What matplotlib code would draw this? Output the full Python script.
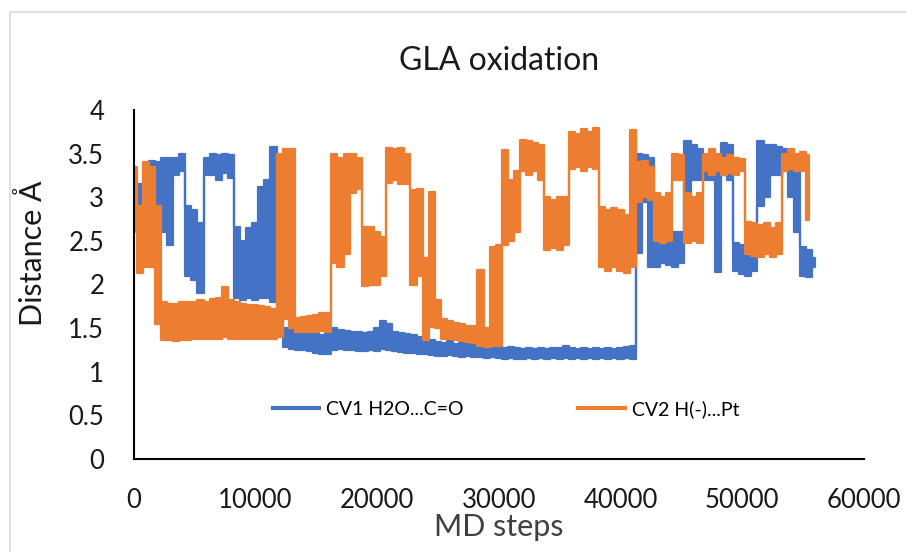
import numpy as np
import matplotlib.pyplot as plt
from matplotlib.lines import Line2D
from matplotlib.patches import Rectangle

plt.rcParams['font.family'] = ['Lato', 'DejaVu Sans']

# min / max of each distance over 500-step windows
window = 500

cv1_high = [
    3.2, 3.15, 3.3, 3.42, 3.4, 3.45, 3.45, 3.45, 3.5, 2.9,
    2.85, 2.7, 3.45, 3.5, 3.48, 3.5, 3.48, 2.66, 2.5, 2.65,
    2.7, 3.12, 3.2, 3.58, 2.2, 1.5, 1.48, 1.47, 1.46, 1.45,
    1.44, 1.42, 1.48, 1.5, 1.48, 1.47, 1.46, 1.45, 1.44, 1.45,
    1.5, 1.58, 1.55, 1.46, 1.44, 1.43, 1.42, 1.4, 1.38, 1.36,
    1.34, 1.33, 1.35, 1.32, 1.33, 1.32, 1.31, 1.3, 1.3, 1.29,
    1.28, 1.27, 1.28, 1.27, 1.26, 1.27, 1.26, 1.27, 1.26, 1.27,
    1.27, 1.3, 1.27, 1.26, 1.27, 1.26, 1.27, 1.26, 1.27, 1.26,
    1.27, 1.28, 1.3, 3.5, 3.48, 3.45, 2.66, 2.62, 2.62, 2.6,
    2.6, 3.64, 3.6, 3.55, 3.35, 3.33, 3.3, 3.62, 3.6, 2.47,
    2.45, 2.4, 2.45, 3.64, 3.6, 3.6, 3.58, 3.55, 3.35, 3.3,
    2.43, 2.4, 2.3,
]
cv1_low = [
    2.7, 2.7, 2.8, 3.15, 2.8, 2.6, 2.45, 3.25, 3.3, 2.1,
    2.05, 1.9, 3.25, 3.25, 3.2, 3.28, 3.22, 1.85, 1.82, 1.85,
    1.82, 1.85, 1.85, 1.8, 1.5, 1.28, 1.26, 1.25, 1.25, 1.24,
    1.22, 1.2, 1.2, 1.25, 1.26, 1.25, 1.25, 1.24, 1.24, 1.25,
    1.24, 1.26, 1.25, 1.24, 1.23, 1.22, 1.22, 1.2, 1.2, 1.19,
    1.18, 1.18, 1.19, 1.18, 1.17, 1.18, 1.17, 1.17, 1.16, 1.17,
    1.16, 1.15, 1.16, 1.15, 1.15, 1.16, 1.15, 1.16, 1.15, 1.16,
    1.15, 1.16, 1.15, 1.16, 1.15, 1.16, 1.15, 1.16, 1.15, 1.16,
    1.15, 1.16, 1.15, 2.36, 2.95, 2.2, 2.2, 2.25, 2.22, 2.2,
    2.25, 3.0, 3.2, 3.2, 3.2, 3.2, 2.14, 3.25, 3.2, 2.15,
    2.12, 2.1, 2.15, 2.9, 3.0, 3.25, 3.25, 3.3, 3.0, 2.6,
    2.1, 2.09, 2.2,
]

cv2_high = [
    3.35, 2.9, 3.4, 3.35, 2.9, 1.8, 1.78, 1.78, 1.8, 1.8,
    1.8, 1.82, 1.8, 1.83, 1.84, 1.97, 1.82, 1.8, 1.78, 1.76,
    1.76, 1.75, 1.74, 1.72, 3.5, 3.55, 3.55, 1.62, 1.63, 1.64,
    1.65, 1.67, 1.67, 3.5, 3.45, 3.5, 3.5, 3.45, 2.66, 2.66,
    2.6, 2.55, 3.56, 3.55, 3.56, 3.5, 3.08, 3.1, 2.3, 3.06,
    1.82, 1.6, 1.58, 1.56, 1.55, 1.53, 1.52, 2.17, 1.5, 2.43,
    2.45, 3.54, 3.2, 3.3, 3.66, 3.65, 3.62, 3.6, 3.0, 2.97,
    3.0, 3.0, 3.75, 3.72, 3.78, 3.75, 3.79, 2.89, 2.85, 2.88,
    2.85, 2.8, 3.77, 3.4, 3.42, 3.35, 3.05, 3.0, 3.05, 3.5,
    3.48, 3.05, 3.0, 3.05, 3.5, 3.55, 3.5, 3.45, 3.48, 3.45,
    3.44, 2.72, 2.7, 2.68, 2.7, 2.65, 2.7, 3.5, 3.55, 3.5,
    3.52, 3.48,
]
cv2_low = [
    2.6, 2.13, 2.2, 2.2, 1.55, 1.36, 1.36, 1.35, 1.36, 1.36,
    1.37, 1.38, 1.37, 1.38, 1.37, 1.4, 1.38, 1.37, 1.38, 1.38,
    1.37, 1.38, 1.37, 1.38, 1.4, 1.6, 1.5, 1.45, 1.45, 1.46,
    1.46, 1.47, 1.46, 2.25, 2.2, 2.35, 3.05, 3.1, 1.98, 2.0,
    2.0, 2.1, 3.16, 3.2, 3.15, 3.15, 2.0, 2.1, 1.36, 1.51,
    1.5, 1.38, 1.37, 1.36, 1.35, 1.34, 1.33, 1.3, 1.28, 1.3,
    1.3, 2.45, 2.5, 2.6, 3.3, 3.25, 3.3, 3.2, 2.4, 2.42,
    2.4, 2.45, 3.32, 3.35, 3.3, 3.35, 3.32, 2.2, 2.15, 2.2,
    2.15, 2.13, 2.2, 2.95, 3.0, 2.97, 2.5, 2.47, 2.5, 3.2,
    3.2, 2.47, 2.5, 2.47, 3.3, 3.25, 3.3, 3.25, 3.28, 3.25,
    3.3, 2.35, 2.33, 2.32, 2.35, 2.32, 2.35, 3.3, 3.32, 3.3,
    3.3, 2.74,
]

steps_cv1 = np.arange(len(cv1_high)) * window
steps_cv2 = np.arange(len(cv2_high)) * window

blue = '#4472C4'
orange = '#ED7D31'

W, H = 906, 552
fig = plt.figure(figsize=(W / 100, H / 100), dpi=100)

# chart area outline
fig.patches.append(Rectangle((10 / W, -0.1), 1.2, (H - 12) / H + 0.1,
                             transform=fig.transFigure, fill=False,
                             edgecolor='#d9d9d9', linewidth=1.2))

ax = fig.add_axes([133.5 / W, (H - 459) / H, (864 - 133.5) / W, (459 - 110) / H])

ax.fill_between(steps_cv1, cv1_low, cv1_high, step='mid',
                facecolor=blue, edgecolor=blue, linewidth=1.6)
ax.fill_between(steps_cv2, cv2_low, cv2_high, step='mid',
                facecolor=orange, edgecolor=orange, linewidth=1.6)

ax.set_xlim(0, 60000)
ax.set_ylim(0, 4)
ax.set_xticks(range(0, 60001, 10000))
ax.set_yticks([0, 0.5, 1, 1.5, 2, 2.5, 3, 3.5, 4])
ax.set_yticklabels(['0', '0.5', '1', '1.5', '2', '2.5', '3', '3.5', '4'])

for side in ['top', 'right']:
    ax.spines[side].set_visible(False)
for side in ['left', 'bottom']:
    ax.spines[side].set_linewidth(1.5)
    ax.spines[side].set_color('black')

ax.tick_params(axis='both', length=0, labelsize=18.5, colors='#1a1a1a')
ax.tick_params(axis='x', pad=21)
ax.tick_params(axis='y', pad=21)

ax.set_title('GLA oxidation', fontsize=23, pad=29, color='#1a1a1a')
ax.set_xlabel('MD steps', fontsize=22, labelpad=0, color='#404040')
ax.set_ylabel('Distance Å', fontsize=22, color='#1a1a1a')
ax.yaxis.set_label_coords(-0.118, 0.59)

handles = [Line2D([], [], color=blue, linewidth=3),
           Line2D([], [], color=orange, linewidth=3)]
ax.legend(handles, ['CV1 H2O...C=O', 'CV2 H(-)...Pt'], loc='center',
          bbox_to_anchor=(0.51, 0.143), ncol=2, frameon=False, fontsize=14,
          handlelength=2.4, handletextpad=0.35, columnspacing=5.9)

fig.savefig('out.png', dpi=100)
